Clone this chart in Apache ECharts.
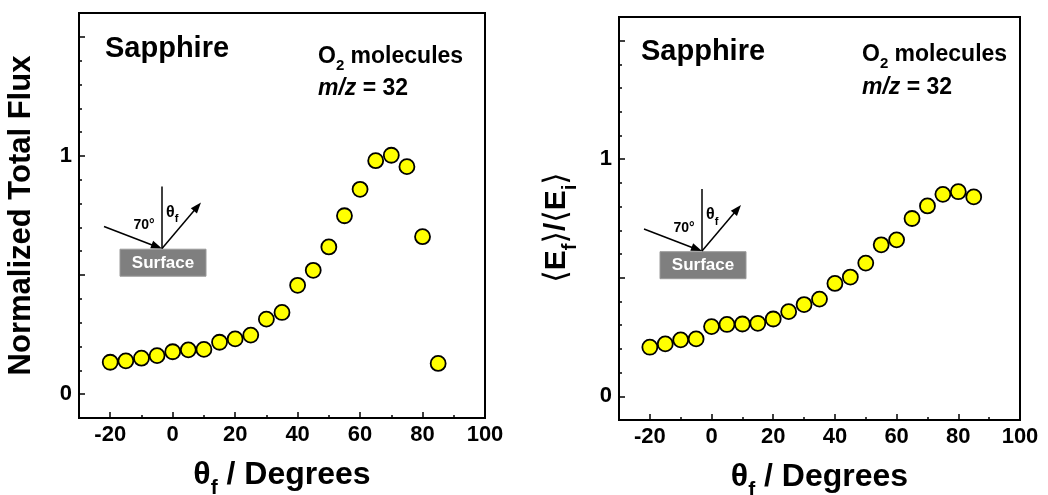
<!DOCTYPE html>
<html>
<head>
<meta charset="utf-8">
<script src="https://cdn.jsdelivr.net/npm/echarts@6/dist/echarts.min.js"></script>
<style>
  html, body { margin: 0; background: #fff; }
  #chart { width: 1048px; height: 495px; }
</style>
</head>
<body>
<div id="chart"></div>
<script>
// data
const angles = [-20, -15, -10, -5, 0, 5, 10, 15, 20, 25, 30, 35, 40, 45, 50, 55, 60, 65, 70, 75, 80, 85]
const totalFlux = [0.134, 0.140, 0.151, 0.162, 0.178, 0.186, 0.188, 0.218, 0.232, 0.248, 0.315, 0.343,
  0.457, 0.520, 0.618, 0.749, 0.860, 0.980, 1.003, 0.955, 0.661, 0.129]
const energyRatio = [0.207, 0.221, 0.238, 0.242, 0.294, 0.303, 0.305, 0.308, 0.326, 0.357, 0.387, 0.410,
  0.476, 0.503, 0.562, 0.639, 0.660, 0.750, 0.803, 0.852, 0.863, 0.841]
const xTickValues = [-20, 0, 20, 40, 60, 80, 100]
const yTickValues = [0, 1]
const yMajorTicks = [0, 0.5, 1, 1.5]

const FONT = 'Arial, "Liberation Sans", sans-serif'
const BLACK = '#000'

const panels = [
  {
    grid: { left: 79, top: 13, width: 406, height: 405 },
    values: totalFlux,
    yName: 'Normalized Total Flux',
    yRich: false,
    yNameGap: 42,
    sapphire: [105, 49],
    molecules: [318, 57],
    mz: [318, 89],
    inset: [162, 248.5]
  },
  {
    grid: { left: 619, top: 17, width: 401, height: 403 },
    values: energyRatio,
    yName: '{br|\u27E8}{m|E}{s|f}{br|\u27E9}{m|/}{br|\u27E8}{m|E}{s|i}{br|\u27E9}',
    yRich: true,
    yNameGap: 43,
    sapphire: [641, 52],
    molecules: [862, 55],
    mz: [862, 88],
    inset: [702, 251]
  }
]

const tickLine = { color: BLACK, width: 1.5 }
const noLine = { show: false, onZero: false }
const labelStyle = { color: BLACK, fontFamily: FONT, fontWeight: 'bold', fontSize: 22 }
const subRich = {
  m: { fontFamily: FONT, fontWeight: 'bold', fontSize: 30, color: BLACK, verticalAlign: 'top', lineHeight: 30 },
  s: { fontFamily: FONT, fontWeight: 'bold', fontSize: 20, color: BLACK, verticalAlign: 'top', lineHeight: 20, padding: [18, 0, 0, 0] },
  br: { fontFamily: '"DejaVu Sans", sans-serif', fontWeight: 'normal', fontSize: 32, color: BLACK, verticalAlign: 'top', lineHeight: 34 }
}
const xNameRich = {
  m: { ...subRich.m, fontSize: 32, lineHeight: 32 },
  s: { ...subRich.s, fontSize: 21, lineHeight: 21, padding: [19, 0, 0, 0] }
}

function buildAxes() {
  const xAxis = []
  const yAxis = []
  panels.forEach((p, i) => {
    // minor ticks
    xAxis.push({
      gridIndex: i, type: 'value', position: 'bottom', min: -30, max: 100, interval: 10,
      axisLine: noLine, axisLabel: { show: false }, splitLine: { show: false },
      axisTick: { show: true, inside: true, length: 3, lineStyle: tickLine }
    })
    // major ticks + labels
    xAxis.push({
      gridIndex: i, type: 'value', position: 'bottom', min: -30, max: 100,
      axisLine: noLine, splitLine: { show: false },
      axisTick: { show: true, inside: true, length: 6, customValues: xTickValues, lineStyle: tickLine },
      axisLabel: { show: true, customValues: xTickValues, margin: 6, ...labelStyle },
      name: '{m|\u03B8}{s|f}{m| / Degrees}',
      nameLocation: 'middle',
      nameGap: 41,
      nameTextStyle: { rich: xNameRich }
    })
    yAxis.push({
      gridIndex: i, type: 'value', position: 'left', min: -0.1, max: 1.6, interval: 0.1,
      axisLine: noLine, axisLabel: { show: false }, splitLine: { show: false },
      axisTick: { show: true, inside: true, length: 3, lineStyle: tickLine }
    })
    yAxis.push({
      gridIndex: i, type: 'value', position: 'left', min: -0.1, max: 1.6,
      axisLine: noLine, splitLine: { show: false },
      axisTick: { show: true, inside: true, length: 6, customValues: yMajorTicks, lineStyle: tickLine },
      axisLabel: { show: true, customValues: yTickValues, margin: 7, ...labelStyle },
      name: p.yName,
      nameLocation: 'middle',
      nameRotate: 90,
      nameGap: p.yNameGap,
      nameTextStyle: p.yRich
        ? { rich: subRich, padding: [0, 18, 0, 0] }
        : { color: BLACK, fontFamily: FONT, fontWeight: 'bold', fontSize: 31 }
    })
  })
  return { xAxis, yAxis }
}

function arrowHead(tx, ty, fx, fy) {
  const a = Math.atan2(ty - fy, tx - fx)
  const L = 11, W = 4
  const bx = tx - L * Math.cos(a), by = ty - L * Math.sin(a)
  return [[tx, ty], [bx - W * Math.sin(a), by + W * Math.cos(a)], [bx + W * Math.sin(a), by - W * Math.cos(a)]]
}

function insetGraphic(ox, oy) {
  const line = (x1, y1, x2, y2) => ({
    type: 'line', shape: { x1: ox + x1, y1: oy + y1, x2: ox + x2, y2: oy + y2 },
    style: { stroke: BLACK, lineWidth: 1.5 }
  })
  const head = (tx, ty, fx, fy) => ({
    type: 'polygon', shape: { points: arrowHead(ox + tx, oy + ty, ox + fx, oy + fy) },
    style: { fill: BLACK }
  })
  return [
    { type: 'rect', shape: { x: ox - 42, y: oy + 0.7, width: 86, height: 27 }, style: { fill: '#7f7f7f', stroke: '#9a9a9a', lineWidth: 1 } },
    { type: 'text', x: ox + 1, y: oy + 14.5, style: { text: 'Surface', fill: '#fff', font: 'bold 17px ' + FONT, textAlign: 'center', textVerticalAlign: 'middle' } },
    line(0, -62, 0, 0),
    line(-58, -22, -6, -2),
    head(0, 0, -58, -22),
    line(0, 0, 33, -39),
    head(39, -46, 0, 0),
    { type: 'text', x: ox - 18, y: oy - 23, style: { text: '70\u00B0', fill: BLACK, font: 'bold 14px ' + FONT, textAlign: 'center', textVerticalAlign: 'middle' } },
    {
      type: 'text', x: ox + 4, y: oy - 44,
      style: {
        text: '{t|\u03B8}{f|f}', textAlign: 'left', textVerticalAlign: 'top',
        rich: {
          t: { fontFamily: FONT, fontWeight: 'bold', fontSize: 16, fill: BLACK, verticalAlign: 'top', lineHeight: 16 },
          f: { fontFamily: FONT, fontWeight: 'bold', fontSize: 11, fill: BLACK, verticalAlign: 'top', lineHeight: 11, padding: [9, 0, 0, 0] }
        }
      }
    }
  ]
}

function buildGraphic() {
  const out = []
  panels.forEach((p) => {
    out.push({
      type: 'text', x: p.sapphire[0], y: p.sapphire[1],
      style: { text: 'Sapphire', fill: BLACK, font: 'bold 29px ' + FONT, textVerticalAlign: 'middle' }
    })
    out.push({
      type: 'text', x: p.molecules[0], y: p.molecules[1] - 12,
      style: {
        text: '{b|O}{s|2}{b| molecules}', textVerticalAlign: 'top',
        rich: {
          b: { fontFamily: FONT, fontWeight: 'bold', fontSize: 23, fill: BLACK, verticalAlign: 'top', lineHeight: 23 },
          s: { fontFamily: FONT, fontWeight: 'bold', fontSize: 15, fill: BLACK, verticalAlign: 'top', lineHeight: 15, padding: [13, 0, 0, 0] }
        }
      }
    })
    out.push({
      type: 'text', x: p.mz[0], y: p.mz[1],
      style: {
        text: '{i|m/z}{b| = 32}', textVerticalAlign: 'middle',
        rich: {
          i: { fontFamily: FONT, fontWeight: 'bold', fontStyle: 'italic', fontSize: 23, fill: BLACK },
          b: { fontFamily: FONT, fontWeight: 'bold', fontSize: 23, fill: BLACK }
        }
      }
    })
    out.push(...insetGraphic(p.inset[0], p.inset[1]))
  })
  return out
}

function buildOption() {
  const { xAxis, yAxis } = buildAxes()
  return {
    animation: false,
    backgroundColor: '#fff',
    grid: panels.map((p) => ({
      ...p.grid, outerBoundsMode: 'none', containLabel: false,
      show: true, borderColor: BLACK, borderWidth: 2, backgroundColor: 'transparent'
    })),
    xAxis,
    yAxis,
    graphic: buildGraphic(),
    series: panels.map((p, i) => ({
      type: 'scatter',
      xAxisIndex: i * 2 + 1,
      yAxisIndex: i * 2 + 1,
      symbol: 'circle',
      symbolSize: 15,
      itemStyle: { color: '#ffff00', borderColor: BLACK, borderWidth: 1.8, opacity: 1 },
      data: angles.map((a, k) => [a, p.values[k]]),
      z: 5
    }))
  }
}

const chart = echarts.init(document.getElementById('chart'), null, { renderer: 'canvas' })
chart.setOption(buildOption())
</script>
</body>
</html>
